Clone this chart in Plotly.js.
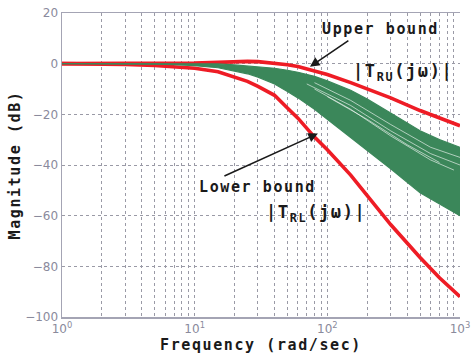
<!DOCTYPE html>
<html>
<head>
<meta charset="utf-8">
<script src="https://cdn.plot.ly/plotly-3.0.1.min.js"></script>
<style>
  body { margin: 0; background: #fff; }
  #chart { width: 472px; height: 358px; }
  .xtitle, .ytitle, .annotation-text { letter-spacing: 1.6px; }
</style>
</head>
<body>
<div id="chart"></div>
<script>
// Frequency points (rad/sec)
const freq = [1, 2, 3, 5, 7, 10, 15, 20, 25, 30, 40, 50, 60, 80, 100, 150, 200, 300, 500, 700, 1000];
// Upper bound |T_RU(jw)| (dB)
const upperBound = [0, 0, 0, 0, 0.05, 0.2, 0.5, 0.8, 0.9, 0.8, 0.3, -0.4, -1.1, -2.8, -4.3, -7.5, -10, -13.5, -18.5, -21.5, -24.5];
// Lower bound |T_RL(jw)| (dB)
const lowerBound = [0, -0.1, -0.3, -0.7, -1.1, -1.8, -3.2, -5.2, -7, -9, -12.5, -17.5, -21.5, -29, -34, -44, -52, -63.5, -76.5, -84.5, -92];
// Envelope of the family of responses (green band)
const bandTop = [0, 0, 0, 0, 0, 0, -0.1, -0.5, -0.9, -1.2, -1.8, -2.6, -3.4, -5, -6.8, -10.5, -14, -19.5, -26.5, -30, -33];
const bandBottom = [0, 0, 0, -0.2, -0.4, -0.8, -1.6, -2.8, -4, -5.3, -8, -11, -13.5, -18, -22, -29, -34.5, -41.5, -51, -55.5, -60];
// Visible gaps between individual responses inside the band
const gapFreq1 = [80, 150, 300, 600, 1000];
const gapVals1 = [-7.5, -14.5, -24, -33, -37];
const gapFreq2 = [70, 150, 300, 600, 1000];
const gapVals2 = [-8, -16.5, -26.5, -35.5, -40];
const gapFreq3 = [80, 150, 300, 600, 900];
const gapVals3 = [-10, -18, -28.5, -38, -42];
const gapFreq4 = [100, 200, 400, 700];
const gapVals4 = [-13, -22, -32, -39];
// Axis ticks
const xTickVals = [1, 10, 100, 1000];
const xTickText = ['10<sup>0</sup>', '10<sup>1</sup>', '10<sup>2</sup>', '10<sup>3</sup>'];
const xMinorVals = [2,3,4,5,6,7,8,9,20,30,40,50,60,70,80,90,200,300,400,500,600,700,800,900];

const RED = '#ee1c25';
const GREEN = '#3b875a';
const gapStyle = {color: 'rgba(255,255,255,0.75)', width: 0.8};

const traces = [
  {x: freq, y: upperBound, mode: 'lines', line: {color: RED, width: 3.6}, hoverinfo: 'skip'},
  {x: freq, y: lowerBound, mode: 'lines', line: {color: RED, width: 3.6}, hoverinfo: 'skip'},
  {x: freq, y: bandBottom, mode: 'lines', line: {color: GREEN, width: 1.2}, hoverinfo: 'skip'},
  {x: freq, y: bandTop, mode: 'lines', line: {color: GREEN, width: 1.2}, fill: 'tonexty', fillcolor: GREEN, hoverinfo: 'skip'},
  {x: gapFreq1, y: gapVals1, mode: 'lines', line: gapStyle, hoverinfo: 'skip'},
  {x: gapFreq2, y: gapVals2, mode: 'lines', line: gapStyle, hoverinfo: 'skip'},
  {x: gapFreq3, y: gapVals3, mode: 'lines', line: gapStyle, hoverinfo: 'skip'},
  {x: gapFreq4, y: gapVals4, mode: 'lines', line: gapStyle, hoverinfo: 'skip'}
];

const labelFont = {family: 'DejaVu Sans Mono', size: 15, color: '#1a1a1a', weight: 'bold'};
const tLabelFont = {family: 'DejaVu Sans Mono', size: 17, color: '#1a1a1a', weight: 'bold'};
const gridCol = '#9a9aa6';
const gridDash = '3px,3px';
const tickFont = {family: 'DejaVu Sans', size: 12, color: '#8a8a9c'};

const layout = {
  width: 472, height: 358,
  margin: {l: 62, r: 12, t: 13, b: 41},
  paper_bgcolor: '#fff', plot_bgcolor: '#fff',
  showlegend: false,
  xaxis: {
    type: 'log', range: [0, 3],
    tickmode: 'array', tickvals: xTickVals, ticktext: xTickText,
    ticks: '', tickfont: tickFont,
    showgrid: true, gridcolor: gridCol, griddash: gridDash, gridwidth: 1,
    minor: {tickmode: 'array', tickvals: xMinorVals, showgrid: true, gridcolor: gridCol, griddash: gridDash, gridwidth: 1, ticks: ''},
    showline: true, linecolor: '#a4a4b4', linewidth: 1.5, mirror: true,
    zeroline: false,
    title: {text: 'Frequency (rad/sec)', font: labelFont, standoff: 4}
  },
  yaxis: {
    range: [-100, 20], dtick: 20, tick0: 0,
    ticks: '', tickfont: tickFont,
    showgrid: true, gridcolor: gridCol, griddash: gridDash, gridwidth: 1,
    showline: true, linecolor: '#a4a4b4', linewidth: 1.5,
    zeroline: false,
    title: {text: 'Magnitude (dB)', font: labelFont, standoff: 1}
  },
  annotations: [
    {xref: 'paper', yref: 'paper', x: 0.801, y: 0.947, xanchor: 'center', yanchor: 'middle', text: 'Upper bound', showarrow: false, font: labelFont},
    {xref: 'paper', yref: 'paper', x: 0.857, y: 0.805, xanchor: 'center', yanchor: 'middle', text: '|T<sub>RU</sub>(j\u03c9)|', showarrow: false, font: tLabelFont},
    {xref: 'paper', yref: 'paper', x: 0.490, y: 0.428, xanchor: 'center', yanchor: 'middle', text: 'Lower bound', showarrow: false, font: labelFont},
    {xref: 'paper', yref: 'paper', x: 0.638, y: 0.341, xanchor: 'center', yanchor: 'middle', text: '|T<sub>RL</sub>(j\u03c9)|', showarrow: false, font: tLabelFont},
    {xref: 'x', yref: 'y', axref: 'x', ayref: 'y', x: 1.869, y: -1.2, ax: 2.170, ay: 9.5, text: '',
     showarrow: true, arrowhead: 2, arrowsize: 1.2, arrowwidth: 1.6, arrowcolor: '#1a1a1a'},
    {xref: 'x', yref: 'y', axref: 'x', ayref: 'y', x: 1.929, y: -27.6, ax: 1.213, ay: -44.6, text: '',
     showarrow: true, arrowhead: 2, arrowsize: 1.2, arrowwidth: 1.6, arrowcolor: '#1a1a1a'}
  ]
};

Plotly.newPlot('chart', traces, layout, {displayModeBar: false, staticPlot: true});
</script>
</body>
</html>
